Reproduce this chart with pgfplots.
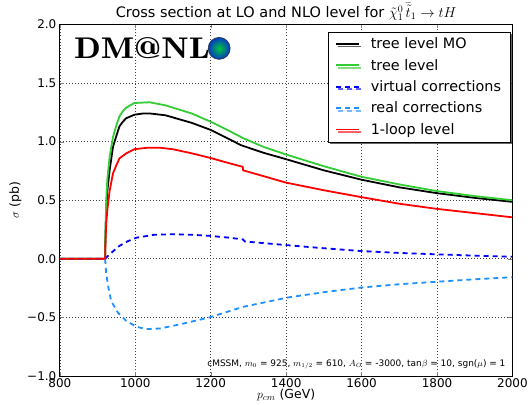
\documentclass[border=0pt]{standalone}
\usepackage{fontspec}
\setmainfont{DejaVu Sans}
\usepackage{graphicx}
\usepackage{pgfplots}
\pgfplotsset{compat=1.18}
\usetikzlibrary{shadows}
\definecolor{mgreen}{RGB}{50,205,50}
\definecolor{mlblue}{RGB}{30,144,255}
\begin{document}
\begin{tikzpicture}
\begin{axis}[
  scale only axis,
  width=452bp, height=351bp,
  xmin=800, xmax=2000, ymin=-1, ymax=2,
  xtick={800,1000,...,2000},
  xticklabels={800,1000,1200,1400,1600,1800,2000},
  ytick={-1,-0.5,0,0.5,1,1.5,2},
  yticklabels={−1.0,−0.5,0.0,0.5,1.0,1.5,2.0},
  ticklabel style={font=\fontsize{12}{14}\selectfont},
  xticklabel style={yshift=1bp},
  tick align=inside,
  major tick length=4bp,
  xmajorgrids, ymajorgrids,
  grid style={black!75, line width=0.6pt, dash pattern=on 1bp off 2bp},
  axis line style={line width=0.8pt},
  title={Cross section at LO and NLO level for $\tilde{\chi}_1^0\,\bar{\tilde{t}}_1\rightarrow tH$},
  title style={font=\fontsize{14.5}{16}\selectfont, yshift=-6bp},
  xlabel={$p_{cm}$ (GeV)},
  ylabel={$\sigma$ (pb)},
  label style={font=\fontsize{12.5}{15}\selectfont},
  xlabel style={yshift=5bp},
  ylabel style={yshift=-1bp},
  legend style={at={(0.995,0.98)}, anchor=north east, draw=black, fill=white,
    font=\fontsize{14.4}{17}\selectfont, row sep=5bp, column sep=9bp,
    drop shadow={shadow xshift=2.5bp, shadow yshift=-2.5bp, fill=black, opacity=0.6},
    inner xsep=7bp, inner ysep=4bp},
  legend cell align=left,
  legend image code/.code={\draw[#1] plot coordinates {(0bp,0bp) (23bp,0bp)};},
  clip=true,
]
\addplot[black, line width=1.8pt] coordinates {
(800,0) (920,0) (921,0.2) (923,0.42) (926,0.58) (932,0.756) (941,0.957) (950,1.05) (958,1.13) (967,1.17) (976,1.20) (998,1.23) (1020,1.24) (1040,1.24) (1080,1.225) (1150,1.16) (1200,1.10) (1250,1.02) (1280,0.97) (1340,0.905) (1400,0.85) (1500,0.755) (1600,0.675) (1700,0.61) (1800,0.56) (1900,0.52) (2000,0.486)};
\addlegendentry{tree level MO}
\addplot[mgreen, line width=1.8pt] coordinates {
(800,0) (920,0) (921,0.25) (923,0.5) (926,0.68) (932,0.87) (941,1.04) (950,1.14) (958,1.215) (967,1.26) (976,1.29) (998,1.33) (1038,1.336) (1080,1.31) (1150,1.24) (1200,1.17) (1250,1.09) (1286,1.03) (1340,0.955) (1400,0.89) (1500,0.79) (1600,0.70) (1700,0.635) (1800,0.578) (1900,0.535) (2000,0.50)};
\addlegendentry{tree level}
\addplot[blue, line width=1.8pt, dash pattern=on 5bp off 4bp] coordinates {
(800,0) (920,0) (932,0.038) (945,0.075) (958,0.11) (980,0.15) (1003,0.18) (1050,0.205) (1100,0.21) (1150,0.205) (1197,0.196) (1250,0.18) (1286,0.165) (1290,0.148) (1400,0.117) (1500,0.09) (1600,0.066) (1700,0.05) (1800,0.038) (1900,0.027) (2000,0.017)};
\addlegendentry{virtual corrections}
\addplot[mlblue, line width=1.8pt, dash pattern=on 5bp off 4bp] coordinates {
(920,0) (923,-0.13) (929,-0.25) (936,-0.36) (954,-0.46) (976,-0.53) (1003,-0.58) (1029,-0.60) (1065,-0.595) (1118,-0.56) (1197,-0.50) (1286,-0.41) (1405,-0.33) (1500,-0.285) (1600,-0.245) (1700,-0.217) (1804,-0.195) (1900,-0.175) (2000,-0.157)};
\addlegendentry{real corrections}
\addplot[red, line width=1.8pt] coordinates {
(800,0) (920,0) (921,0.15) (923,0.3) (926,0.42) (932,0.58) (941,0.73) (950,0.80) (958,0.857) (976,0.90) (998,0.936) (1030,0.947) (1065,0.948) (1100,0.935) (1150,0.90) (1200,0.86) (1250,0.815) (1285,0.785) (1286,0.755) (1400,0.65) (1500,0.585) (1600,0.526) (1700,0.47) (1800,0.426) (1900,0.39) (2000,0.354)};
\addlegendentry{1-loop level}
\node[anchor=south west, inner sep=0pt, font=\fontsize{11}{13}\selectfont] at (rel axis cs:0,1) [yshift=3bp] {1e−2};
\node[anchor=east, inner sep=0pt, font=\fontfamily{lmr}\bfseries\fontsize{30}{32}\selectfont] at (rel axis cs:0.332,0.932) {\scalebox{1.17}[1]{DM@NL}};
\shade[inner color=green!55!teal, outer color=blue!55!teal, draw=black!80, line width=0.6pt] (rel axis cs:0.352,0.932) circle[radius=11bp];
\node[anchor=south east, inner sep=0pt, font=\fontsize{9}{11}\selectfont] at (rel axis cs:0.985,0.018) {cMSSM, $m_0$ = 925, $m_{1/2}$ = 610, $A_O$ = -3000, tan$\beta$ = 10, sgn($\mu$) = 1};
\end{axis}
\path ([xshift=-6bp]current bounding box.west);
\end{tikzpicture}
\end{document}
